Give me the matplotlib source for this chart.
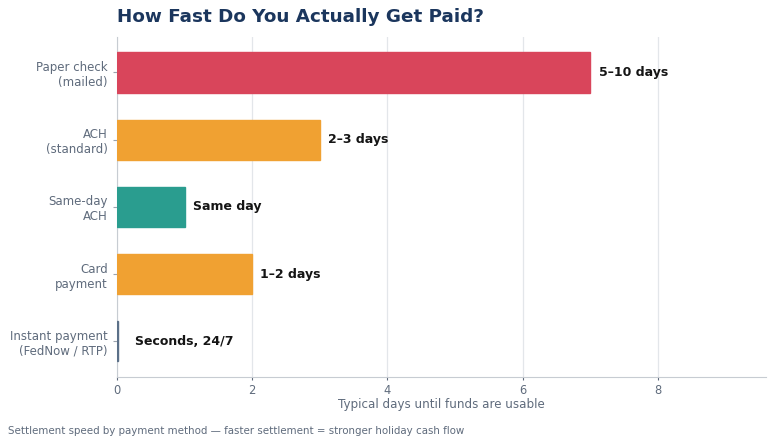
import matplotlib.pyplot as plt
import numpy as np

# payment methods, top to bottom
methods = ["Paper check\n(mailed)", "ACH\n(standard)", "Same-day\nACH",
           "Card\npayment", "Instant payment\n(FedNow / RTP)"]
days = [7, 3, 1, 2, 0.01]
labels = ["5–10 days", "2–3 days", "Same day", "1–2 days", "Seconds, 24/7"]
colors = ["#d9455b", "#f0a132", "#2a9d8f", "#f0a132", "#5b7088"]

grey = "#5f6b7c"

fig, ax = plt.subplots(figsize=(7.74, 4.44), dpi=100)
fig.subplots_adjust(left=0.151, right=0.99, top=0.917, bottom=0.151)

y = np.arange(len(methods))
ax.barh(y, days, height=0.6, color=colors, edgecolor=colors, zorder=3)
ax.invert_yaxis()

for yi, d, lab in zip(y, days, labels):
    xpos = d + 0.12 if d > 0.1 else 0.27
    ax.text(xpos, yi, lab, va="center", ha="left", fontsize=9,
            fontweight="bold", color="#151515", zorder=4)

ax.set_yticks(y)
ax.set_yticklabels(methods, fontsize=8.5, color=grey)
ax.set_xlim(0, 9.6)
ax.set_xticks([0, 2, 4, 6, 8])
ax.tick_params(axis="x", colors=grey, labelsize=8.3, length=2.5, pad=2.5)
ax.tick_params(axis="y", colors="#9aa3ad", labelcolor=grey, length=3)
ax.set_xlabel("Typical days until funds are usable", fontsize=8.6,
              color=grey, labelpad=1)

ax.grid(axis="x", color="#e3e6ea", linewidth=0.9, zorder=0)
for s in ["top", "right"]:
    ax.spines[s].set_visible(False)
ax.spines["left"].set_color("#c7ccd2")
ax.spines["bottom"].set_color("#c7ccd2")

ax.set_title("How Fast Do You Actually Get Paid?", loc="left", fontsize=13.2,
             fontweight="bold", color="#1b365d", pad=11)
fig.text(0.01, 0.017, "Settlement speed by payment method — faster settlement = stronger holiday cash flow",
         fontsize=7.4, color=grey, ha="left", va="bottom")

fig.savefig("out.png", dpi=100)
